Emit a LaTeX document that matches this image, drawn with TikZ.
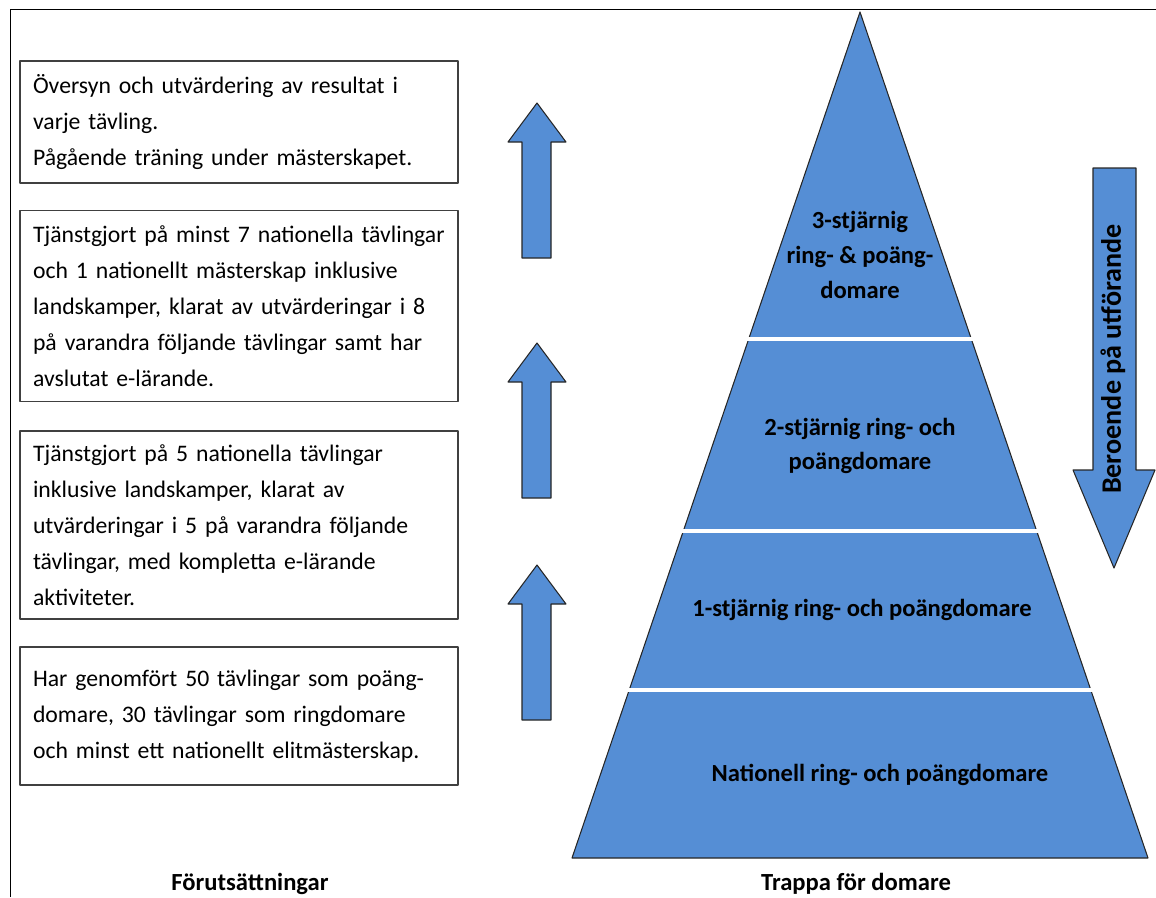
\documentclass[tikz,border=0pt]{standalone}
\usepackage{fontspec}
\setmainfont{Carlito}
\definecolor{trappblue}{HTML}{558ED5}
\begin{document}
\begin{tikzpicture}[x=0.02cm, y=-0.02cm, line join=round,
  krav/.style={draw=black!75, line width=0.8pt, minimum width=8.76cm, inner xsep=0.26cm,
    text width=8.24cm, align=left, font=\fontsize{13.5}{20.5}\selectfont},
  pil/.style={fill=trappblue, draw=black!85, line width=0.6pt},
  niva/.style={align=center, font=\fontsize{14}{19.8}\selectfont\bfseries},
  rubrik/.style={font=\fontsize{14}{16}\selectfont\bfseries}]
\useasboundingbox (0,0) rectangle (1156,897);
\draw (10,897) -- (10,9) -- (1156,9);
% krav
\node[krav, minimum height=2.44cm] (k1) at (239,122) {Översyn och utvärdering av resultat i\\varje tävling.\\Pågående träning under mästerskapet.};
\node[krav, minimum height=3.82cm] (k2) at (239,306) {Tjänstgjort på minst 7 nationella tävlingar\\och 1 nationellt mästerskap inklusive\\landskamper, klarat av utvärderingar i 8\\på varandra följande tävlingar samt har\\avslutat e-lärande.};
\node[krav, minimum height=3.76cm] (k3) at (239,525) {Tjänstgjort på 5 nationella tävlingar\\inklusive landskamper, klarat av\\utvärderingar i 5 på varandra följande\\tävlingar, med kompletta e-lärande\\aktiviteter.};
\node[krav, minimum height=2.76cm] (k4) at (239,716) {Har genomfört 50 tävlingar som poäng-\\domare, 30 tävlingar som ringdomare\\och minst ett nationellt elitmästerskap.};
\foreach \t in {103,343,565}
  \draw[pil] (537,\t) -- (566,\t+39) -- (551,\t+39) -- (551,\t+155) -- (522,\t+155) -- (522,\t+39) -- (508,\t+39) -- cycle;
% trappa
\draw[pil] (860,12) -- (1148,858) -- (572,858) -- cycle;
\foreach \y in {339,531,690}
  \draw[white, line width=2.5pt] ({857-0.3404*(\y-12)},\y) -- ({863+0.3404*(\y-12)},\y);
\node[niva] (n3) at (860,255) {3-stjärnig\\ring- \& poäng-\\domare};
\node[niva] (n2) at (860,446) {2-stjärnig ring- och\\poängdomare};
\node[niva] (n1) at (862,610) {1-stjärnig ring- och poängdomare};
\node[niva] (n0) at (880,775) {Nationell ring- och poängdomare};
\draw[pil] (1093,168) -- (1136,168) -- (1136,470) -- (1155,470) -- (1114,568) -- (1073,470) -- (1093,470) -- cycle;
\node[rubrik, font=\fontsize{16}{18}\selectfont\bfseries, rotate=90] (beroende) at (1113,359) {Beroende på utförande};
\node[rubrik] (forut) at (250,884) {Förutsättningar};
\node[rubrik] (trappa) at (856,884) {Trappa för domare};
\end{tikzpicture}
\end{document}
